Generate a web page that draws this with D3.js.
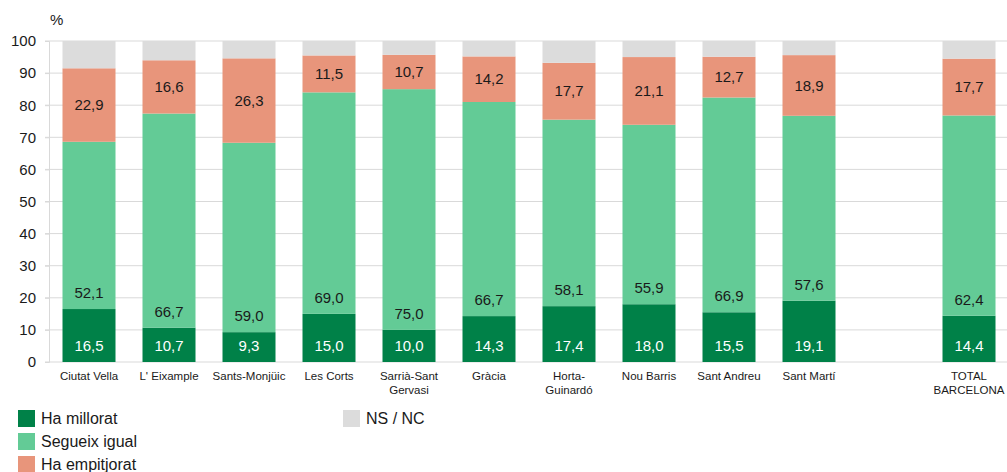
<!DOCTYPE html>
<html>
<head>
<meta charset="utf-8">
<script src="https://cdn.jsdelivr.net/npm/d3@7"></script>
<style>
  html, body { margin: 0; padding: 0; background: #fff; }
  svg { display: block; font-family: "Liberation Sans", Arial, sans-serif; }
</style>
</head>
<body>
<svg id="chart" width="1007" height="472"></svg>
<script>
const categories = ["Ciutat Vella", "L' Eixample", "Sants-Monjüic", "Les Corts", "Sarrià-Sant\nGervasi", "Gràcia", "Horta-\nGuinardó", "Nou Barris", "Sant Andreu", "Sant Martí", "TOTAL\nBARCELONA"];
const haMillorat   = [16.5, 10.7, 9.3, 15.0, 10.0, 14.3, 17.4, 18.0, 15.5, 19.1, 14.4];
const segueixIgual = [52.1, 66.7, 59.0, 69.0, 75.0, 66.7, 58.1, 55.9, 66.9, 57.6, 62.4];
const haEmpitjorat = [22.9, 16.6, 26.3, 11.5, 10.7, 14.2, 17.7, 21.1, 12.7, 18.9, 17.7];
const nsNc         = [8.5, 6.0, 5.4, 4.5, 4.3, 4.8, 6.8, 5.0, 4.9, 4.4, 5.5];
const seriesNames  = ["Ha millorat", "Segueix igual", "Ha empitjorat", "NS / NC"];
const yTicks = [0, 10, 20, 30, 40, 50, 60, 70, 80, 90, 100];

(function () {
const colors = ["#008148", "#63CB96", "#E8957B", "#DCDCDC"];
const seriesValues = [haMillorat, segueixIgual, haEmpitjorat, nsNc];

const svg = d3.select("#chart");
const mLeft = 49, mRight = 1009, mTop = 41, mBottom = 362;

// slot keys: districts, a gap, then total
const slotKeys = categories.slice(0, 10).concat(["__gap__"], categories.slice(10));
const x = d3.scaleBand().domain(slotKeys).range([mLeft, mRight]).paddingInner(0.3375).paddingOuter(0.16875);
const y = d3.scaleLinear().domain([0, 100]).range([mBottom, mTop]);

// gridlines
svg.append("g").selectAll("line").data(yTicks.filter(d => d > 0)).join("line")
  .attr("x1", mLeft - 4).attr("x2", 1007)
  .attr("y1", d => y(d)).attr("y2", d => y(d))
  .attr("stroke", "#D9D9D9").attr("stroke-width", 1);

// y axis
const yAxis = d3.axisLeft(y).tickValues(yTicks).tickSize(4).tickPadding(9);
const gy = svg.append("g").attr("transform", `translate(${mLeft},0)`).call(yAxis);
gy.select(".domain").attr("stroke", "#D9D9D9");
gy.selectAll(".tick line").attr("stroke", "#D9D9D9");
gy.selectAll(".tick text").attr("font-size", 15).attr("fill", "#1a1a1a").attr("font-family", "Liberation Sans, Arial, sans-serif");

// x baseline
svg.append("line").attr("x1", mLeft - 4).attr("x2", 1007).attr("y1", y(0)).attr("y2", y(0))
  .attr("stroke", "#D9D9D9").attr("stroke-width", 1);

// stacked data
const rows = categories.map((c, i) => {
  const r = { key: c };
  seriesNames.forEach((s, j) => r[s] = seriesValues[j][i]);
  return r;
});
const stack = d3.stack().keys(seriesNames)(rows);

const layers = svg.append("g").selectAll("g").data(stack).join("g")
  .attr("fill", (d, i) => colors[i]);
layers.selectAll("rect").data(d => d).join("rect")
  .attr("x", d => x(d.data.key))
  .attr("width", x.bandwidth())
  .attr("y", d => y(d[1]))
  .attr("height", d => y(d[0]) - y(d[1]));

// labels
const fmt = v => v.toFixed(1).replace(".", ",");
stack.slice(0, 3).forEach((layer, li) => {
  svg.append("g").selectAll("text").data(layer).join("text")
    .attr("x", d => x(d.data.key) + x.bandwidth() / 2)
    .attr("y", d => li === 2 ? (y(d[0]) + y(d[1])) / 2 : y(d[0]) - 16)
    .attr("dy", "0.35em")
    .attr("text-anchor", "middle")
    .attr("font-size", 15)
    .attr("fill", li === 0 ? "#ffffff" : "#1a1a1a")
    .text(d => fmt(d[1] - d[0]));
});

// category labels
const catG = svg.append("g");
categories.forEach(c => {
  const t = catG.append("text")
    .attr("x", x(c) + x.bandwidth() / 2)
    .attr("y", 380)
    .attr("text-anchor", "middle")
    .attr("font-size", 11.5)
    .attr("fill", "#1a1a1a");
  c.split("\n").forEach((line, k) => {
    t.append("tspan").attr("x", x(c) + x.bandwidth() / 2).attr("dy", k === 0 ? 0 : 14).text(line);
  });
});

// % label
svg.append("text").attr("x", 50).attr("y", 25).attr("font-size", 15).attr("fill", "#1a1a1a").text("%");

// legend
const legendPos = [[18, 410], [18, 433], [18, 456], [343, 410]];
seriesNames.forEach((s, i) => {
  const [lx, ly] = legendPos[i];
  svg.append("rect").attr("x", lx).attr("y", ly).attr("width", 17).attr("height", 17).attr("fill", colors[i]);
  svg.append("text").attr("x", lx + 23).attr("y", ly + 8.5).attr("dy", "0.35em")
    .attr("font-size", 16).attr("fill", "#1a1a1a").text(s);
});
})();
</script>
</body>
</html>
